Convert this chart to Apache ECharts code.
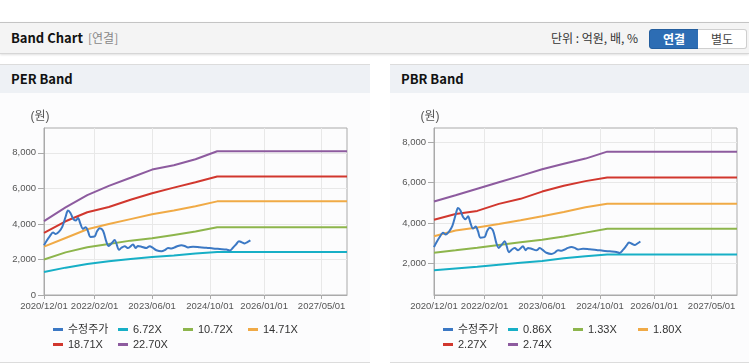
<!DOCTYPE html>
<html>
<head>
<meta charset="utf-8">
<script src="https://cdn.jsdelivr.net/npm/echarts@6/dist/echarts.min.js"></script>
<style>
	body {margin:0; width:749px; height:364px; position:relative; overflow:hidden; background:#fff; font-family:"Noto Sans CJK KR","Liberation Sans",sans-serif;}
	.topBar {position:absolute; left:0; top:22px; width:749px; height:30px; background:#f4f4f4; border-top:1px solid #c4c4c4; border-bottom:1px solid #d6d6d6; box-shadow:0 1px 2px rgba(0,0,0,0.12);}
	.topBar .title {position:absolute; left:11px; top:0; line-height:30px; font-size:13px; font-weight:bold; color:#111;}
	.topBar .sub {position:absolute; left:88px; top:0; line-height:30px; font-size:12px; color:#888;}
	.topBar .unit {position:absolute; left:551px; top:0; line-height:30px; font-size:12px; color:#333;}
	.topBar .btn {position:absolute; top:6px; height:18px; line-height:18px; width:48px; text-align:center; font-size:12px;}
	.topBar .on {left:649px; background:#2d6db4; color:#fff; font-weight:bold; border:1px solid #245e9e; border-radius:3px 0 0 3px;}
	.topBar .off {left:698px; background:#fff; color:#444; border:1px solid #cfcfcf; border-left:none; border-radius:0 3px 3px 0;}
	.panel {position:absolute; top:64px; height:297px; background:#fcfcfd; border-top:1px solid #dcdcdc; border-bottom:1px solid #dcdcdc;}
	.panelHead {height:28px; line-height:28px; background:#eef1f5; padding-left:11px; font-size:13px; font-weight:bold; color:#111;}
	.chartBox {position:absolute; top:93px; height:268px;}
</style>
</head>
<body>
<div class="topBar">
	<span class="title">Band Chart</span>
	<span class="sub">[연결]</span>
	<span class="unit">단위 : 억원, 배, %</span>
	<span class="btn on">연결</span>
	<span class="btn off">별도</span>
</div>
<div class="panel" style="left:0;width:370px;"><div class="panelHead">PER Band</div></div>
<div class="panel" style="left:390px;width:359px;"><div class="panelHead">PBR Band</div></div>
<div id="perChartContainer" class="chartBox" style="left:0;width:370px;"></div>
<div id="pbrChartContainer" class="chartBox" style="left:390px;width:359px;"></div>
<script>
// 수정주가 (일자 / 값)
var priceDates = ['2020-12-01','2020-12-21','2021-01-18','2021-02-15','2021-03-10','2021-04-07','2021-05-05','2021-06-02','2021-06-21','2021-07-12',
	'2021-08-03','2021-08-25','2021-09-14','2021-10-04','2021-10-26','2021-11-18','2021-12-07','2021-12-27','2022-02-02','2022-02-21',
	'2022-03-16','2022-04-13','2022-05-11','2022-05-31','2022-06-23','2022-07-20','2022-08-26','2022-09-15','2022-10-13','2022-11-10',
	'2022-12-22','2023-01-13','2023-02-02','2023-03-03','2023-04-14','2023-05-12','2023-06-08','2023-07-07','2023-08-18','2023-09-15',
	'2023-10-13','2023-11-11','2023-12-08','2024-01-05','2024-02-03','2024-03-02','2024-03-30','2024-05-11','2024-07-06','2024-09-01',
	'2024-10-27','2024-12-22','2025-02-17','2025-03-17','2025-04-13','2025-05-12','2025-06-03','2025-06-23','2025-07-21','2025-08-13',
	'2025-09-07'];
var priceValues = [2800,3030,3300,3520,3430,3570,3850,4420,4750,4620,
	4300,4190,4330,4010,3720,3820,3590,3270,3300,3590,
	3760,3620,3000,2760,2900,3090,2540,2660,2750,2640,
	2840,2650,2760,2720,2640,2750,2650,2520,2460,2520,
	2650,2620,2680,2760,2800,2760,2680,2720,2690,2660,
	2620,2590,2560,2510,2660,2870,3030,2980,2900,2980,
	3080];

// 밴드 기준일자
var bandDates = ['2020-12-01','2021-06-01','2021-12-01','2022-06-01','2022-12-01','2023-06-01','2023-12-01','2024-06-01','2024-12-01','2027-12-01'];

// PER 밴드
var perNames = ['6.72X','10.72X','14.71X','18.71X','22.70X'];
var perBand1 = [1290,1540,1740,1900,2030,2140,2230,2330,2416,2416];
var perBand2 = [2000,2400,2690,2870,3060,3190,3380,3570,3815,3815];
var perBand3 = [2720,3210,3700,4000,4270,4540,4760,5000,5270,5270];
var perBand4 = [3500,4150,4660,4950,5360,5730,6045,6350,6669,6669];
var perBand5 = [4160,4930,5620,6140,6600,7060,7300,7640,8090,8090];

// PBR 밴드
var pbrNames = ['0.86X','1.33X','1.80X','2.27X','2.74X'];
var pbrBand1 = [1650,1740,1820,1920,2020,2110,2250,2350,2430,2430];
var pbrBand2 = [2515,2640,2770,2910,3040,3170,3330,3520,3718,3718];
var pbrBand3 = [3340,3630,3780,3950,4140,4330,4550,4780,4960,4960];
var pbrBand4 = [4160,4450,4600,4950,5200,5560,5850,6080,6257,6257];
var pbrBand5 = [5070,5380,5700,6020,6340,6670,6940,7200,7544,7544];

// 축 눈금
var xTickDates = ['2020-12-01','2022-02-01','2023-06-01','2024-10-01','2026-01-01','2027-05-01'];
var perTicks = [0,2000,4000,6000,8000];
var pbrTicks = [2000,4000,6000,8000];

var lineColors = ['#3b78c4','#17afc6','#8db54c','#f0aa46','#d1372e','#8d5b9f'];

var bandChart = {
	/**
	 * 일자 문자열 -> timestamp
	 */
	toTime : function(s) {
		var p = s.split('-');
		return new Date(+p[0], p[1] - 1, +p[2]).getTime();
	},

	/**
	 * 일자 + 값 배열 만들기
	 */
	makeData : function(dates, values) {
		var arr = new Array();
		for (var i = 0; i < dates.length; i++) {
			arr[i] = [bandChart.toTime(dates[i]), values[i]];
		}
		return arr;
	},

	/**
	 * 차트 표시
	 */
	showChart : function(domId, bandNames, bands, yMin, yMax, yTicks) {
		var myChart = echarts.init(document.getElementById(domId));
		var xTicks = xTickDates.map(bandChart.toTime);
		var series = [{
			name: '수정주가',
			type: 'line',
			z: 5,
			smooth: 0.3,
			showSymbol: false,
			data: bandChart.makeData(priceDates, priceValues),
			lineStyle: {width: 2, color: lineColors[0]},
			itemStyle: {color: lineColors[0]}
		}];
		for (var i = 0; i < bands.length; i++) {
			series.push({
				name: bandNames[i],
				type: 'line',
				showSymbol: false,
				data: bandChart.makeData(bandDates, bands[i]),
				lineStyle: {width: 2, color: lineColors[i + 1]},
				itemStyle: {color: lineColors[i + 1]}
			});
		}
		var option = {
			animation: false,
			textStyle: {fontFamily: '"Liberation Sans","Noto Sans CJK KR",sans-serif'},
			grid: {left: 44, top: 35, width: 303, height: 167, show: true, borderColor: '#aaa', borderWidth: 1},
			legend: {
				left: 48, top: 224, width: 262,
				icon: 'rect', itemWidth: 10, itemHeight: 3, itemGap: 0,
				textStyle: {fontSize: 11, color: '#333', width: 50, lineHeight: 15},
				data: ['수정주가'].concat(bandNames)
			},
			xAxis: {
				// 날짜를 timestamp 값축으로 사용
				type: 'value',
				min: bandChart.toTime('2020-12-01'),
				max: bandChart.toTime('2027-12-01'),
				axisLine: {lineStyle: {color: '#aaa'}},
				axisTick: {customValues: xTicks, length: 4, lineStyle: {color: '#aaa'}},
				axisLabel: {
					customValues: xTicks, color: '#555', fontSize: 9.5, margin: 7, hideOverlap: false,
					formatter: function(v) {
						var d = new Date(v);
						var m = d.getMonth() + 1, dd = d.getDate();
						return d.getFullYear() + '/' + (m < 10 ? '0' + m : m) + '/' + (dd < 10 ? '0' + dd : dd);
					}
				},
				splitLine: {show: true, lineStyle: {color: '#e8e8e8'}}
			},
			yAxis: {
				type: 'value',
				min: yMin,
				max: yMax,
				name: '(원)',
				nameGap: 5,
				nameTextStyle: {color: '#555', fontSize: 12, align: 'center', padding: [0, 8, 0, 0]},
				axisLine: {show: true, lineStyle: {color: '#aaa'}},
				axisTick: {show: true, customValues: yTicks, length: 6, lineStyle: {color: '#aaa'}},
				axisLabel: {
					customValues: yTicks, color: '#555', fontSize: 9.5, margin: 8,
					formatter: function(v) {
						return String(v).replace(/\B(?=(\d{3})+(?!\d))/g, ',');
					}
				},
				splitLine: {show: true, lineStyle: {color: '#e8e8e8'}}
			},
			series: series
		};
		myChart.setOption(option);
	}
};

bandChart.showChart('perChartContainer', perNames, [perBand1, perBand2, perBand3, perBand4, perBand5], 0, 9400, perTicks);
bandChart.showChart('pbrChartContainer', pbrNames, [pbrBand1, pbrBand2, pbrBand3, pbrBand4, pbrBand5], 420, 8720, pbrTicks);
</script>
</body>
</html>
